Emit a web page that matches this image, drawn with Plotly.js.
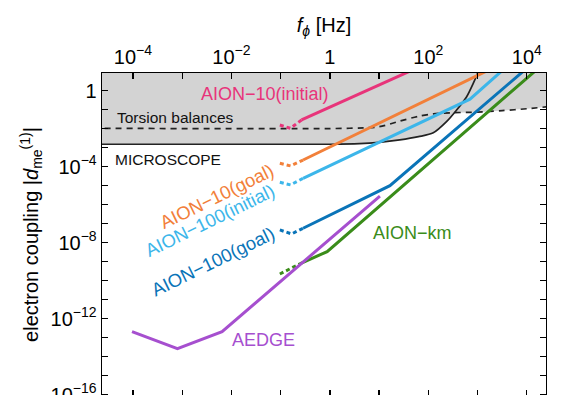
<!DOCTYPE html>
<html>
<head>
<meta charset="utf-8">
<script src="https://cdn.plot.ly/plotly-3.0.1.min.js"></script>
<style>
html,body{margin:0;padding:0;overflow:hidden;background:#fff;}
#chart{width:569px;height:396px;}
</style>
</head>
<body>
<div id="chart"></div>
<script>
// ---- data (frequency f in Hz, coupling |d_me|) ----
const xTickVals = [1e-4, 1e-2, 1, 100, 1e4];
const xTickText = ['10<sup>−4</sup>', '10<sup>−2</sup>', '1', '10<sup>2</sup>', '10<sup>4</sup>'];
const xMinorVals = [1e-3, 1e-1, 10, 1e3];
const yTickVals = [1, 1e-4, 1e-8, 1e-12, 1e-16];
const yTickText = ['1', '10<sup>−4</sup>', '10<sup>−8</sup>', '10<sup>−12</sup>', '10<sup>−16</sup>'];
const yMinorVals = [1e-1,1e-2,1e-3,1e-5,1e-6,1e-7,1e-9,1e-10,1e-11,1e-13,1e-14,1e-15];

const microscopeF = [1.58e-5, 1, 3.98, 10, 26.3, 63.1, 126, 234, 376, 600, 818, 1000, 1072];
const microscopeD = [1.51e-3, 1.51e-3, 1.62e-3, 1.91e-3, 2.57e-3, 3.80e-3, 6.03e-3, 0.0233, 0.0962, 0.482, 2.44, 8.2, 20];

const torsionF = [1.58e-5, 2.51, 10, 26.3, 63.1, 126, 316, 1000, 3162, 10000, 28184];
const torsionD = [0.0105, 0.0105, 0.0126, 0.0251, 0.0447, 0.0603, 0.0692, 0.0741, 0.0891, 0.112, 0.145];

const aion10iniDotF = [0.0964, 0.159, 0.266];
const aion10iniDotD = [0.0155, 0.0105, 0.0288];
const aion10iniF = [0.266, 56.2];
const aion10iniD = [0.0288, 14.9];

const aion10goalDotF = [0.0964, 0.159, 0.286];
const aion10goalDotD = [1.51e-4, 1.10e-4, 2.24e-4];
const aion10goalF = [0.286, 1995];
const aion10goalD = [2.24e-4, 15.1];

const aion100iniDotF = [0.0964, 0.159, 0.286];
const aion100iniDotD = [1.51e-5, 1.10e-5, 2.45e-5];
const aion100iniF = [0.286, 701, 3802];
const aion100iniD = [2.45e-5, 0.355, 17.4];

const aion100goalDotF = [0.0964, 0.167, 0.286];
const aion100goalDotD = [4.68e-8, 2.88e-8, 5.75e-8];
const aion100goalF = [0.286, 16.6, 10715];
const aion100goalD = [5.75e-8, 1e-5, 17.7];

const aionKmDotF = [0.0964, 0.251];
const aionKmDotD = [2.24e-10, 7.94e-10];
const aionKmF = [0.251, 0.881, 18621];
const aionKmD = [7.94e-10, 3.39e-9, 18.2];

const aedgeF = [9.59e-5, 8.02e-4, 6.47e-3, 10.4];
const aedgeD = [2.09e-13, 2.63e-14, 2.09e-13, 2.82e-6];

// ---- styles ----
const FONT = 'Liberation Sans, Arial, sans-serif';
const C = {
  pink:'#E8347A', orange:'#F2803A', cyan:'#3CB6EA', blue:'#0A74B8', green:'#3A8C1A', purple:'#A64FCF',
  gray:'rgb(211,211,211)'
};
const fMin = microscopeF[0], fMax = torsionF[torsionF.length-1], dTop = 20;

const traces = [];
traces.push({x: microscopeF.concat([fMin]), y: microscopeD.concat([dTop]), mode:'lines', fill:'toself',
  fillcolor:C.gray, line:{width:0}, hoverinfo:'skip', showlegend:false});
traces.push({x: torsionF.concat([fMax, fMin]), y: torsionD.concat([dTop, dTop]), mode:'lines', fill:'toself',
  fillcolor:C.gray, line:{width:0}, hoverinfo:'skip', showlegend:false});
traces.push({x: microscopeF, y: microscopeD, mode:'lines', line:{color:'#222', width:1.7, shape:'spline', smoothing:0.8}, showlegend:false});
traces.push({x: torsionF, y: torsionD, mode:'lines', line:{color:'#222', width:1.7, dash:'6px,5px', shape:'spline', smoothing:0.8}, showlegend:false});

function addCurve(fd, dd, fs, ds, col){
  traces.push({x: fd, y: dd, mode:'lines', line:{color:col, width:3, dash:'4px,3px'}, showlegend:false});
  traces.push({x: fs, y: ds, mode:'lines', line:{color:col, width:3}, showlegend:false});
}
addCurve(aion10iniDotF, aion10iniDotD, aion10iniF, aion10iniD, C.pink);
addCurve(aion10goalDotF, aion10goalDotD, aion10goalF, aion10goalD, C.orange);
addCurve(aion100iniDotF, aion100iniDotD, aion100iniF, aion100iniD, C.cyan);
addCurve(aion100goalDotF, aion100goalDotD, aion100goalF, aion100goalD, C.blue);
addCurve(aionKmDotF, aionKmDotD, aionKmF, aionKmD, C.green);
traces.push({x: aedgeF, y: aedgeD, mode:'lines', line:{color:C.purple, width:3}, showlegend:false});

function lab(text, lx, ly, col, size, angle, xanchor){
  return {text:text, x:lx, y:ly, xref:'x', yref:'y', showarrow:false, textangle:angle||0,
    xanchor:xanchor||'center', yanchor:'middle', font:{family:FONT, size:size, color:col}};
}
const annotations = [
  lab('AION−10(initial)', -1.32, -0.18, C.pink, 18),
  lab('Torsion balances', -4.36, -1.39, '#111', 15.5, 0, 'left'),
  lab('MICROSCOPE', -4.40, -3.6, '#111', 15.5, 0, 'left'),
  lab('AION−10(goal)', -2.30, -5.58, C.orange, 18.5, -26),
  lab('AION−100(initial)', -2.44, -6.81, C.cyan, 18.5, -26),
  lab('AION−100(goal)', -2.37, -9.0, C.blue, 18.5, -26),
  lab('AION−km', 1.68, -7.47, C.green, 18),
  lab('AEDGE', -1.34, -13.12, C.purple, 18)
];

const minorCommon = {ticks:'inside', ticklen:6, tickwidth:1.3, tickcolor:'#000', showgrid:false};
const axisCommon = {type:'log', showgrid:false, zeroline:false, showline:true, linecolor:'#000', linewidth:1.4,
  mirror:'allticks', ticks:'inside', ticklen:6, tickwidth:1.3, tickcolor:'#000', tickmode:'array',
  ticklabeloverflow:'allow',
  tickfont:{family:FONT, size:20, color:'#000'}};

const layout = {
  width:569, height:396,
  margin:{l:102, r:23, t:73, b:0},
  paper_bgcolor:'#fff', plot_bgcolor:'#fff',
  showlegend:false,
  xaxis: Object.assign({}, axisCommon, {range:[-4.628, 4.39], side:'top', tickvals:xTickVals, ticktext:xTickText,
    minor:Object.assign({tickmode:'array', tickvals:xMinorVals}, minorCommon),
    title:{text:'<i>f</i><sub><i>ϕ</i></sub> [Hz]', font:{family:FONT, size:20, color:'#000'}, standoff:4}}),
  yaxis: Object.assign({}, axisCommon, {range:[-16.07, 0.93], tickvals:yTickVals, ticktext:yTickText,
    minor:Object.assign({tickmode:'array', tickvals:yMinorVals}, minorCommon),
    title:{text:'electron coupling |<i>d</i><sub>me</sub><sup>(1)</sup>|', font:{family:FONT, size:20, color:'#000'}, standoff:6}}),
  annotations: annotations
};

Plotly.newPlot('chart', traces, layout, {staticPlot:true, displayModeBar:false});
</script>
</body>
</html>
